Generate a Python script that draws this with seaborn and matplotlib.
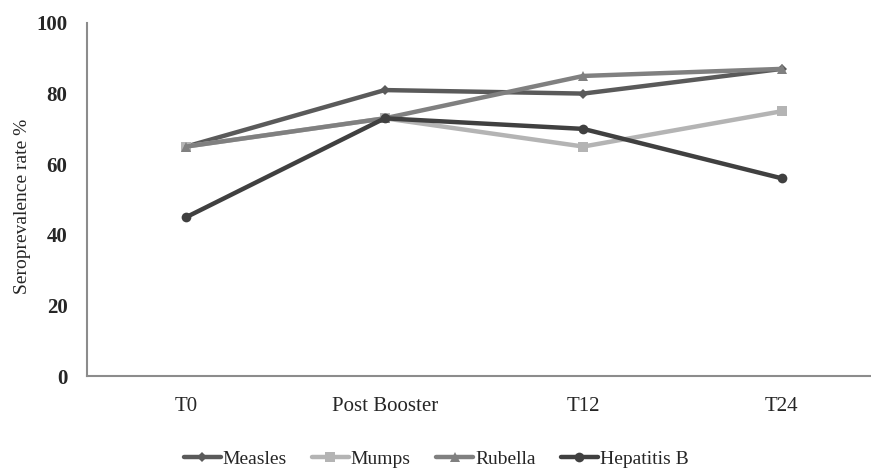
import matplotlib
matplotlib.use("Agg")
import matplotlib.pyplot as plt
import seaborn as sns
import pandas as pd

timepoints = ["T0", "Post Booster", "T12", "T24"]
measles = [65, 81, 80, 87]
mumps = [65, 73, 65, 75]
rubella = [65, 73, 85, 87]
hepatitis_b = [45, 73, 70, 56]
series_names = ["Measles", "Mumps", "Rubella", "Hepatitis B"]
y_ticks = [0, 20, 40, 60, 80, 100]

sns.set_style("white")
plt.rcParams["font.family"] = ["Liberation Serif", "DejaVu Serif"]

rows = []
for name, vals in zip(series_names, [measles, mumps, rubella, hepatitis_b]):
    for i, (t, v) in enumerate(zip(timepoints, vals)):
        rows.append({"Time": i, "Series": name, "Value": v})
df = pd.DataFrame(rows)

palette = {"Measles": "#5a5a5a", "Mumps": "#b4b4b4", "Rubella": "#808080", "Hepatitis B": "#404040"}
markers = {"Measles": "D", "Mumps": "s", "Rubella": "^", "Hepatitis B": "o"}
msizes = {"Measles": 5, "Mumps": 7, "Rubella": 7, "Hepatitis B": 7}

fig = plt.figure(figsize=(8.71, 4.68), dpi=100)
ax = fig.add_axes([87/871, 1-376/468, (881-87)/871, (376-23)/468])

for name in series_names:
    sub = df[df["Series"] == name]
    sns.lineplot(data=sub, x="Time", y="Value", ax=ax, color=palette[name],
                 marker=markers[name], markersize=msizes[name], linewidth=3.2,
                 markeredgewidth=0, label=name, sort=False)

ax.set_xlim(-0.5, 3.5)
ax.set_ylim(0, 100)
ax.set_xticks(range(len(timepoints)))
ax.set_xticklabels(timepoints, fontsize=15)
ax.set_yticks(y_ticks)
ax.set_yticklabels([str(t) for t in y_ticks], fontsize=15, fontweight="bold")
ax.set_xlabel("")
ax.set_ylabel("Seroprevalence rate %", fontsize=14)
ax.yaxis.set_label_coords(-56/794, 0.48)
ax.tick_params(axis="y", length=0, pad=14)
ax.tick_params(axis="x", length=0, pad=15)
for s in ["top", "right"]:
    ax.spines[s].set_visible(False)
for s in ["left", "bottom"]:
    ax.spines[s].set_color("#8c8c8c")
    ax.spines[s].set_linewidth(1.5)

if ax.legend_:
    ax.legend_.remove()
handles, labels = ax.get_legend_handles_labels()
fig.legend(handles, labels, loc="center", bbox_to_anchor=(436/871, 1-459/468), ncol=4,
           frameon=False, fontsize=14, handlelength=1.9, columnspacing=1.3,
           handletextpad=0.1)

fig.savefig("out.png", dpi=100)
